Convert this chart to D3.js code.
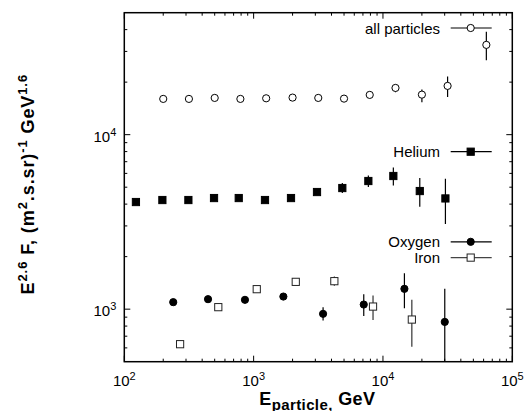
<!DOCTYPE html>
<html>
<head>
<meta charset="utf-8">
<script src="https://d3js.org/d3.v7.min.js"></script>
<style>
body { margin: 0; background: #fff; }
text { font-family: "Liberation Sans", Arial, sans-serif; fill: #000; }
</style>
</head>
<body>
<script>
// energies in GeV, flux values E^2.6 F
var allX = [200, 316, 500, 790, 1250, 2000, 3160, 5000, 7900, 12500, 20000, 31600, 63000];
var allY = [16030, 16030, 16240, 16030, 16160, 16310, 16240, 16090, 16900, 18530, 16960, 19030, 32700];
var allLo = [null, null, null, null, null, null, null, null, null, 17490, 15320, 16460, 26690];
var allHi = [null, null, null, null, null, null, null, null, null, 19360, 18120, 21520, 38840];

var heX = [123, 197, 313, 494, 767, 1224, 1945, 3090, 4850, 7710, 12030, 19260, 30400];
var heY = [4111, 4221, 4221, 4333, 4333, 4221, 4333, 4691, 4945, 5425, 5796, 4753, 4311];
var heLo = [null, null, null, null, null, null, null, null, 4630, 5012, 5117, 3863, 3074];
var heHi = [null, null, null, null, null, null, null, null, 5283, 5842, 6492, 5644, 5592];

var oxX = [239, 444, 857, 1698, 3443, 7103, 14650, 30050];
var oxY = [1097, 1141, 1131, 1181, 940, 1063, 1308, 845];
var oxLo = [null, null, null, null, 860, 915, 1013, 300];
var oxHi = [null, null, null, null, 1027, 1219, 1609, 1308];

var feX = [270, 533, 1057, 2117, 4208, 8378, 16720];
var feY = [630, 1027, 1302, 1434, 1447, 1035, 872];
var feLo = [null, null, null, null, 1361, 868, 610];
var feHi = [null, null, null, null, 1538, 1197, 1131];

var xTicks = [2, 3, 4, 5];   // exponents of 10
var yTicks = [3, 4];

var margin = {left: 124.3, top: 12.7, right: 524 - 512.3, bottom: 411 - 361.7};
var W = 524, H = 411;
var w = W - margin.left - margin.right, h = H - margin.top - margin.bottom;

var x = d3.scaleLog().domain([100, 100000]).range([0, w]);
var y = d3.scaleLog().domain([500, 50000]).range([h, 0]);

var svg = d3.select("body").append("svg")
	.attr("width", W)
	.attr("height", H);

var g = svg.append("g")
	.attr("transform", "translate(" + margin.left + "," + margin.top + ")");

g.append("defs").append("clipPath").attr("id", "clip")
	.append("rect").attr("width", w).attr("height", h);

// minor/major ticks, mirrored on all four sides, pointing inward
var xMinor = [], yMinor = [];
for (var e = 2; e < 5; e++) for (var k = 2; k < 10; k++) xMinor.push(k * Math.pow(10, e));
for (var e = 2; e < 5; e++) for (var k = 1; k < 10; k++) {
	var v = k * Math.pow(10, e);
	if (v > 500 && v < 50000 && k != 1) yMinor.push(v);
}
var ticks = g.append("g").attr("stroke", "#000").attr("stroke-width", 1);
xMinor.forEach(function(v) {
	ticks.append("line").attr("x1", x(v)).attr("x2", x(v)).attr("y1", h).attr("y2", h - 3);
	ticks.append("line").attr("x1", x(v)).attr("x2", x(v)).attr("y1", 0).attr("y2", 3);
});
xTicks.forEach(function(p) {
	var v = Math.pow(10, p);
	ticks.append("line").attr("x1", x(v)).attr("x2", x(v)).attr("y1", h).attr("y2", h - 6);
	ticks.append("line").attr("x1", x(v)).attr("x2", x(v)).attr("y1", 0).attr("y2", 6);
});
yMinor.forEach(function(v) {
	ticks.append("line").attr("x1", 0).attr("x2", 3).attr("y1", y(v)).attr("y2", y(v));
	ticks.append("line").attr("x1", w).attr("x2", w - 3).attr("y1", y(v)).attr("y2", y(v));
});
yTicks.forEach(function(p) {
	var v = Math.pow(10, p);
	ticks.append("line").attr("x1", 0).attr("x2", 6).attr("y1", y(v)).attr("y2", y(v));
	ticks.append("line").attr("x1", w).attr("x2", w - 6).attr("y1", y(v)).attr("y2", y(v));
});

// tick labels
xTicks.forEach(function(p) {
	var t = g.append("text")
		.attr("x", x(Math.pow(10, p)))
		.attr("y", h + 24.5)
		.attr("text-anchor", "middle")
		.style("font-size", "15px");
	t.append("tspan").text("10");
	t.append("tspan").attr("dy", -6).style("font-size", "11px").text(p);
});
yTicks.forEach(function(p) {
	var t = g.append("text")
		.attr("x", -8)
		.attr("y", y(Math.pow(10, p)) + 7)
		.attr("text-anchor", "end")
		.style("font-size", "15px");
	t.append("tspan").text("10");
	t.append("tspan").attr("dy", -6).style("font-size", "11px").text(p);
});

// frame
g.append("rect").attr("width", w).attr("height", h)
	.attr("fill", "none").attr("stroke", "#000").attr("stroke-width", 1.5);

function rows(xs, ys, lo, hi) {
	return xs.map(function(d, i) { return {x: d, y: ys[i], lo: lo[i], hi: hi[i]}; });
}

function errorBars(data, color) {
	g.append("g").attr("clip-path", "url(#clip)")
		.selectAll("line").data(data.filter(function(d) { return d.lo != null; }))
		.enter().append("line")
		.attr("x1", function(d) { return x(d.x); })
		.attr("x2", function(d) { return x(d.x); })
		.attr("y1", function(d) { return y(d.lo); })
		.attr("y2", function(d) { return y(d.hi); })
		.attr("stroke", color).attr("stroke-width", 1.2);
}

function marker(sel, type) {
	if (type == "circle" || type == "dot") {
		sel.append("circle").attr("r", 3.6)
			.attr("fill", type == "dot" ? "#000" : "#fff")
			.attr("stroke", "#000").attr("stroke-width", 1);
	} else {
		sel.append("rect").attr("x", -3.6).attr("y", -3.6).attr("width", 7.2).attr("height", 7.2)
			.attr("fill", type == "fsquare" ? "#000" : "#fff")
			.attr("stroke", type == "fsquare" ? "#000" : "#222").attr("stroke-width", 1);
	}
}

function series(data, type, color) {
	errorBars(data, color);
	g.append("g").selectAll("g").data(data).enter().append("g")
		.attr("transform", function(d) { return "translate(" + x(d.x) + "," + y(d.y) + ")"; })
		.each(function() { marker(d3.select(this), type); });
}

series(rows(allX, allY, allLo, allHi), "circle", "#000");
series(rows(heX, heY, heLo, heHi), "fsquare", "#000");
series(rows(oxX, oxY, oxLo, oxHi), "dot", "#000");
series(rows(feX, feY, feLo, feHi), "osquare", "#333");

// legends
var legend = [
	{label: "all particles", type: "circle", ly: 28, color: "#000"},
	{label: "Helium", type: "fsquare", ly: 151.7, color: "#000"},
	{label: "Oxygen", type: "dot", ly: 241.8, color: "#000"},
	{label: "Iron", type: "osquare", ly: 257.6, color: "#444"}
];
legend.forEach(function(l) {
	var lg = svg.append("g").attr("transform", "translate(0," + l.ly + ")");
	lg.append("text").attr("x", 440).attr("y", 5.5).attr("text-anchor", "end")
		.style("font-size", "15px").text(l.label);
	lg.append("line").attr("x1", 450.7).attr("x2", 491.7).attr("y1", 0).attr("y2", 0)
		.attr("stroke", l.color).attr("stroke-width", 1.2);
	var m = lg.append("g").attr("transform", "translate(470.7,0)");
	marker(m, l.type);
});

// axis titles
var xl = svg.append("text")
	.attr("x", margin.left + w / 2 - 1)
	.attr("y", 404.5)
	.attr("text-anchor", "middle")
	.style("font-size", "18px").style("font-weight", "bold")
	.style("letter-spacing", "0.4px");
xl.append("tspan").text("E");
xl.append("tspan").attr("dy", 5).style("font-size", "15px").text("particle,");
xl.append("tspan").attr("dy", -5).text(" GeV");

var yl = svg.append("text")
	.attr("transform", "translate(33.5," + (margin.top + h / 2 - 3) + ") rotate(-90)")
	.attr("text-anchor", "middle")
	.style("font-size", "18px").style("font-weight", "bold")
	.style("letter-spacing", "0.9px");
yl.append("tspan").text("E");
yl.append("tspan").attr("dy", -7).style("font-size", "13px").text("2.6");
yl.append("tspan").attr("dy", 7).text(" F, (m");
yl.append("tspan").attr("dy", -7).style("font-size", "13px").text("2");
yl.append("tspan").attr("dy", 7).text(".s.sr)");
yl.append("tspan").attr("dy", -7).style("font-size", "13px").text("-1");
yl.append("tspan").attr("dy", 7).text(" GeV");
yl.append("tspan").attr("dy", -7).style("font-size", "13px").text("1.6");
</script>
</body>
</html>
